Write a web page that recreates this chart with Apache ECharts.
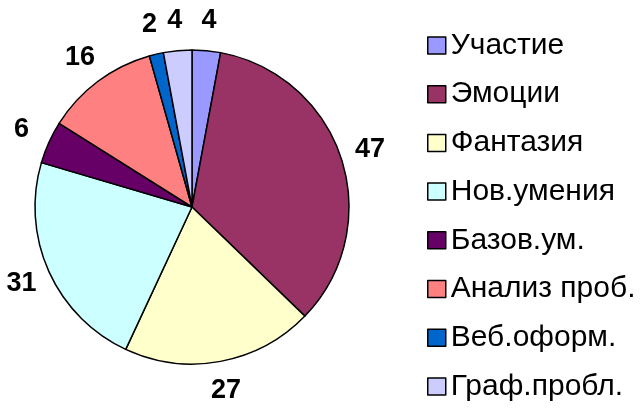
<!DOCTYPE html>
<html>
<head>
<meta charset="utf-8">
<script src="https://cdn.jsdelivr.net/npm/echarts@6/dist/echarts.min.js"></script>
<style>html,body{margin:0;padding:0;background:#fff;}#c{width:644px;height:408px;}</style>
</head>
<body>
<div id="c"></div>
<script>
const categories = ['Участие', 'Эмоции', 'Фантазия', 'Нов.умения', 'Базов.ум.', 'Анализ проб.', 'Веб.оформ.', 'Граф.пробл.'];
const values = [4, 47, 27, 31, 6, 16, 2, 4];
const colors = ['#9999FF', '#993366', '#FFFFCC', '#CCFFFF', '#660066', '#FF8080', '#0066CC', '#CCCCFF'];

const font = 'Liberation Sans, Arial, sans-serif';
const data = categories.map((n, i) => ({ name: n, value: values[i], itemStyle: { color: colors[i] } }));

const chart = echarts.init(document.getElementById('c'));
chart.setOption({
  animation: false,
  legend: {
    orient: 'vertical',
    left: 427,
    top: 29,
    height: 380,
    padding: 0,
    itemWidth: 18,
    itemHeight: 17,
    itemGap: 15.7,
    itemTextGap: 12,
    icon: 'rect',
    itemStyle: { borderColor: '#000', borderWidth: 1.5 },
    textStyle: { fontFamily: font, fontSize: 30, color: '#000', lineHeight: 33 },
    data: categories
  },
  series: [
    {
      type: 'pie',
      center: [192, 207],
      radius: [0, 157],
      startAngle: 90,
      clockwise: true,
      silent: true,
      label: { show: false },
      labelLine: { show: false },
      itemStyle: { borderColor: '#000', borderWidth: 1.5 },
      data: data
    },
    {
      type: 'pie',
      center: [192, 207],
      radius: [178, 190],
      startAngle: 90,
      clockwise: true,
      silent: true,
      legendHoverLink: false,
      itemStyle: { color: 'rgba(0,0,0,0)', borderWidth: 0 },
      label: {
        show: true,
        position: 'inside',
        formatter: '{c}',
        fontFamily: font,
        fontSize: 27,
        fontWeight: 'bold',
        color: '#000'
      },
      labelLine: { show: false },
      data: categories.map((n, i) => ({ name: n, value: values[i] }))
    }
  ]
});
</script>
</body>
</html>
